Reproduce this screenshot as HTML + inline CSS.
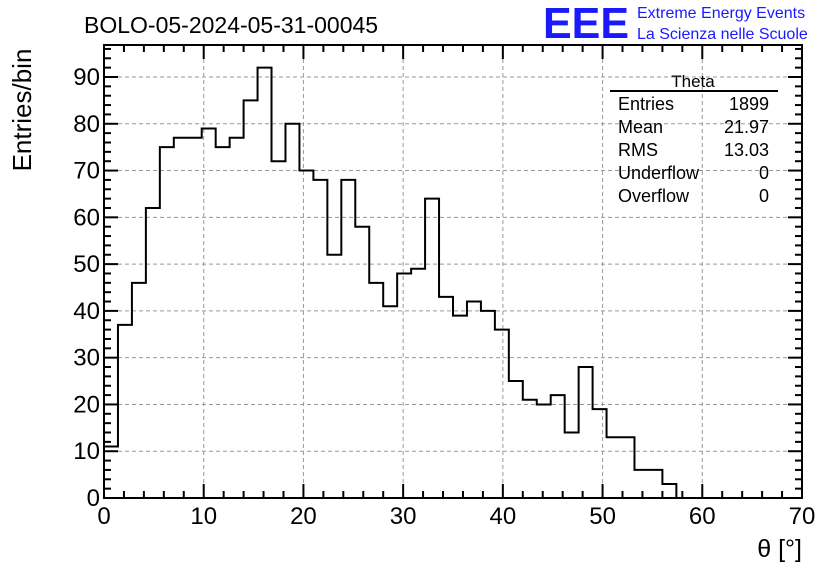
<!DOCTYPE html>
<html><head><meta charset="utf-8"><style>
body{margin:0;background:#fff;}
svg{display:block;font-family:"Liberation Sans",sans-serif;}
</style></head><body>
<svg id="c" width="836" height="572">
<text x="84" y="33" font-size="23">BOLO-05-2024-05-31-00045</text>
<text x="543" y="38" font-size="44" fill="#1a1aff" font-weight="bold" textLength="86" lengthAdjust="spacingAndGlyphs">EEE</text>
<text x="637" y="18" font-size="16" fill="#1a1aff">Extreme Energy Events</text>
<text x="637" y="39" font-size="16" fill="#1a1aff">La Scienza nelle Scuole</text>
<text transform="translate(31,110) rotate(-90)" font-size="26" text-anchor="middle">Entries/bin</text>
<text x="802" y="557" font-size="25" text-anchor="end">θ [°]</text>
<g id="grid"></g><g id="hist"></g><g id="axes"></g>
<g font-size="18">
<line x1="610" y1="91" x2="778" y2="91" stroke="#000" stroke-width="2"/>
<text x="693" y="87" text-anchor="middle" font-size="17">Theta</text>
<text x="618" y="110">Entries</text><text x="769" y="110" text-anchor="end">1899</text>
<text x="618" y="133">Mean</text><text x="769" y="133" text-anchor="end">21.97</text>
<text x="618" y="156">RMS</text><text x="769" y="156" text-anchor="end">13.03</text>
<text x="618" y="179">Underflow</text><text x="769" y="179" text-anchor="end">0</text>
<text x="618" y="202">Overflow</text><text x="769" y="202" text-anchor="end">0</text>
</g>
</svg>
<script>
const binWidth = 1.4;
const counts = [11,37,46,62,75,77,77,79,75,77,85,92,72,80,70,68,52,68,58,46,41,48,49,64,43,39,42,40,36,25,21,20,22,14,28,19,13,13,6,6,3,0,0,0,0,0,0,0,0,0];
const xTicks = [0,10,20,30,40,50,60,70];
const yTicks = [0,10,20,30,40,50,60,70,80,90];
const L=104,R=802,T=45,B=498;
const xs=v=>L+(v/70)*(R-L);
const ys=v=>B-(v/90)*(B-77);
const NS="http://www.w3.org/2000/svg";
function mk(tag,attrs,parent){const e=document.createElementNS(NS,tag);for(const k in attrs)e.setAttribute(k,attrs[k]);document.getElementById(parent).appendChild(e);return e;}
xTicks.forEach(t=>{if(t>0&&t<70){const l=mk('line',{x1:xs(t),x2:xs(t),y1:T,y2:B,stroke:'#999','stroke-dasharray':'4,3','stroke-width':1},'grid');

}});
yTicks.forEach(t=>{if(t>0){const l=mk('line',{x1:L,x2:R,y1:ys(t),y2:ys(t),stroke:'#999','stroke-dasharray':'4,3','stroke-width':1},'grid');

}});
let d='M'+xs(0)+' '+ys(0);
counts.forEach((c,i)=>{d+=' L'+xs(i*binWidth)+' '+ys(c)+' L'+xs((i+1)*binWidth)+' '+ys(c);});
const p=mk('path',{d:d,fill:'none',stroke:'#000','stroke-width':2},'hist');


const f=mk('rect',{x:L,y:T,width:R-L,height:B-T,fill:'none',stroke:'#000','stroke-width':2},'axes');


for(let v=0;v<=70;v+=2){const len=(v%10===0)?14:7;
mk('line',{x1:xs(v),x2:xs(v),y1:B,y2:B-len,stroke:'#000','stroke-width':2},'axes');
mk('line',{x1:xs(v),x2:xs(v),y1:T,y2:T+len,stroke:'#000','stroke-width':2},'axes');}
for(let v=0;v<=98;v+=2){const len=(v%10===0)?14:7;if(ys(v)<T)break;
mk('line',{x1:L,x2:L+len,y1:ys(v),y2:ys(v),stroke:'#000','stroke-width':2},'axes');
mk('line',{x1:R,x2:R-len,y1:ys(v),y2:ys(v),stroke:'#000','stroke-width':2},'axes');}
xTicks.forEach(t=>{const e=mk('text',{x:xs(t),y:B+26,'font-size':24,'text-anchor':'middle'},'axes');e.textContent=t;

});
yTicks.forEach(t=>{const e=mk('text',{x:L-4,y:ys(t)+8,'font-size':24,'text-anchor':'end'},'axes');e.textContent=t;

});
</script>
</body></html>
